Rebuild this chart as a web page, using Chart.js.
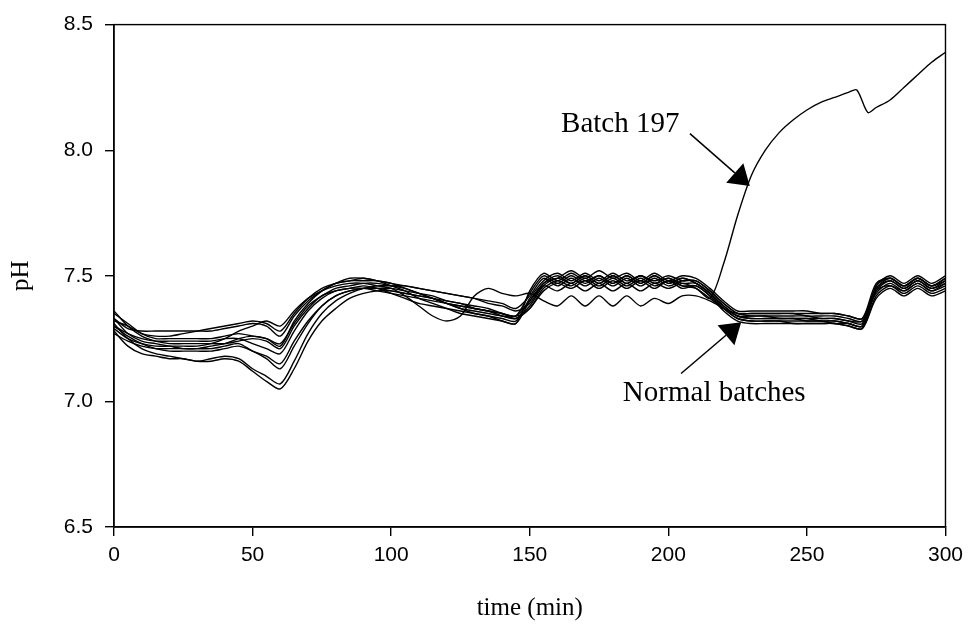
<!DOCTYPE html>
<html>
<head>
<meta charset="utf-8">
<script src="https://cdn.jsdelivr.net/npm/chart.js@4.4.0/dist/chart.umd.min.js"></script>
<style>
html, body { margin: 0; padding: 0; background: #fff; }
#wrap { width: 970px; height: 626px; }
</style>
</head>
<body>
<div id="wrap"><canvas id="phChart" width="970" height="626"></canvas></div>
<script>
// sampling times (min) shared by the normal batches
var time = [0, 5, 10, 15, 20, 25, 30, 35, 40, 45, 50, 55, 60,
	65, 70, 75, 80, 85, 90, 95,
	100, 105, 110, 115, 120, 125, 130, 135, 140, 145, 150,
	155, 160, 165, 170, 175, 180, 185, 190, 195, 200, 205, 210,
	215, 220, 225,
	230, 235, 240, 245, 250, 255, 260, 265, 270,
	275, 280, 285, 290, 295, 300];

// pH of the normal batches
var batchA = [7.31, 7.25, 7.21, 7.19, 7.18, 7.17, 7.16, 7.16, 7.17, 7.16, 7.12, 7.08, 7.05,
	7.13, 7.24, 7.32, 7.37, 7.41, 7.43, 7.44,
	7.44, 7.43, 7.42, 7.41, 7.40, 7.39, 7.38, 7.37, 7.35, 7.34, 7.37,
	7.45, 7.48, 7.46, 7.49, 7.46, 7.49, 7.46, 7.49, 7.46, 7.48, 7.46, 7.46,
	7.42, 7.36, 7.32,
	7.31, 7.31, 7.31, 7.31, 7.31, 7.31, 7.31, 7.30, 7.29,
	7.42, 7.46, 7.44, 7.47, 7.44, 7.46];
var batchB = [7.28, 7.22, 7.19, 7.18, 7.17, 7.17, 7.16, 7.17, 7.18, 7.17, 7.13, 7.10, 7.07,
	7.16, 7.27, 7.35, 7.40, 7.43, 7.45, 7.46,
	7.46, 7.46, 7.45, 7.44, 7.43, 7.42, 7.41, 7.39, 7.38, 7.36, 7.39,
	7.47, 7.50, 7.47, 7.50, 7.47, 7.50, 7.47, 7.50, 7.47, 7.49, 7.47, 7.47,
	7.43, 7.37, 7.33,
	7.32, 7.32, 7.32, 7.32, 7.32, 7.32, 7.31, 7.31, 7.30,
	7.44, 7.48, 7.45, 7.48, 7.45, 7.48];
var batchC = [7.33, 7.27, 7.24, 7.23, 7.22, 7.21, 7.21, 7.21, 7.22, 7.23, 7.20, 7.18, 7.15,
	7.24, 7.32, 7.38, 7.42, 7.44, 7.45, 7.45,
	7.44, 7.43, 7.42, 7.41, 7.39, 7.38, 7.37, 7.36, 7.35, 7.34, 7.40,
	7.46, 7.44, 7.47, 7.44, 7.47, 7.44, 7.47, 7.44, 7.47, 7.45, 7.47, 7.45,
	7.41, 7.37, 7.35,
	7.35, 7.35, 7.35, 7.35, 7.35, 7.35, 7.35, 7.34, 7.33,
	7.45, 7.49, 7.46, 7.49, 7.46, 7.49];
var batchD = [7.30, 7.27, 7.25, 7.24, 7.24, 7.24, 7.24, 7.24, 7.25, 7.25, 7.23, 7.21, 7.19,
	7.28, 7.36, 7.41, 7.44, 7.45, 7.46, 7.45,
	7.43, 7.41, 7.39, 7.38, 7.37, 7.36, 7.35, 7.34, 7.33, 7.32, 7.41,
	7.48, 7.51, 7.48, 7.51, 7.48, 7.51, 7.48, 7.50, 7.48, 7.50, 7.48, 7.48,
	7.44, 7.39, 7.35,
	7.34, 7.34, 7.34, 7.34, 7.34, 7.33, 7.33, 7.32, 7.31,
	7.46, 7.50, 7.47, 7.50, 7.47, 7.50];
var batchE = [7.35, 7.31, 7.27, 7.25, 7.25, 7.25, 7.25, 7.25, 7.26, 7.27, 7.26, 7.25, 7.23,
	7.31, 7.38, 7.42, 7.45, 7.46, 7.47, 7.47,
	7.46, 7.45, 7.43, 7.41, 7.39, 7.37, 7.36, 7.35, 7.34, 7.34, 7.43,
	7.50, 7.47, 7.50, 7.47, 7.50, 7.47, 7.50, 7.47, 7.50, 7.47, 7.49, 7.47,
	7.43, 7.38, 7.34,
	7.34, 7.34, 7.33, 7.33, 7.33, 7.33, 7.33, 7.32, 7.32,
	7.43, 7.47, 7.44, 7.47, 7.44, 7.47];
var batchF = [7.33, 7.29, 7.28, 7.28, 7.28, 7.28, 7.28, 7.28, 7.29, 7.30, 7.31, 7.30, 7.26,
	7.34, 7.40, 7.44, 7.47, 7.48, 7.49, 7.48,
	7.47, 7.45, 7.43, 7.41, 7.39, 7.37, 7.35, 7.34, 7.32, 7.31, 7.40,
	7.47, 7.49, 7.52, 7.49, 7.52, 7.49, 7.51, 7.48, 7.51, 7.48, 7.50, 7.49,
	7.45, 7.40, 7.36,
	7.36, 7.36, 7.36, 7.36, 7.36, 7.35, 7.35, 7.34, 7.33,
	7.47, 7.49, 7.46, 7.49, 7.46, 7.49];
var batchG = [7.29, 7.25, 7.23, 7.22, 7.22, 7.22, 7.22, 7.23, 7.25, 7.28, 7.30, 7.32, 7.30,
	7.36, 7.41, 7.44, 7.46, 7.47, 7.47, 7.46,
	7.45, 7.42, 7.38, 7.34, 7.32, 7.34, 7.42, 7.45, 7.43, 7.42, 7.43,
	7.40, 7.38, 7.42, 7.38, 7.42, 7.38, 7.42, 7.38, 7.41, 7.39, 7.42, 7.42,
	7.40, 7.37, 7.34,
	7.33, 7.33, 7.33, 7.33, 7.32, 7.32, 7.32, 7.31, 7.30,
	7.44, 7.46, 7.43, 7.46, 7.43, 7.45];
var batchH = [7.36, 7.30, 7.26, 7.24, 7.23, 7.23, 7.23, 7.23, 7.23, 7.24, 7.25, 7.24, 7.21,
	7.30, 7.37, 7.42, 7.44, 7.45, 7.45, 7.44,
	7.43, 7.42, 7.41, 7.40, 7.39, 7.38, 7.37, 7.36, 7.35, 7.33, 7.37,
	7.44, 7.47, 7.45, 7.48, 7.45, 7.48, 7.45, 7.48, 7.45, 7.48, 7.45, 7.46,
	7.42, 7.37, 7.33,
	7.32, 7.32, 7.32, 7.31, 7.31, 7.31, 7.31, 7.30, 7.29,
	7.41, 7.45, 7.42, 7.45, 7.42, 7.44];
var batchI = [7.32, 7.30, 7.27, 7.26, 7.26, 7.27, 7.28, 7.29, 7.30, 7.31, 7.32, 7.31, 7.28,
	7.35, 7.41, 7.45, 7.47, 7.48, 7.48, 7.48,
	7.47, 7.46, 7.45, 7.44, 7.43, 7.42, 7.41, 7.40, 7.39, 7.37, 7.42,
	7.49, 7.46, 7.49, 7.46, 7.49, 7.46, 7.49, 7.46, 7.49, 7.46, 7.48, 7.48,
	7.44, 7.39, 7.35,
	7.35, 7.35, 7.35, 7.35, 7.34, 7.34, 7.34, 7.33, 7.32,
	7.45, 7.48, 7.45, 7.48, 7.45, 7.47];
var batchJ = [7.27, 7.24, 7.22, 7.21, 7.21, 7.21, 7.21, 7.22, 7.23, 7.25, 7.26, 7.25, 7.22,
	7.32, 7.39, 7.44, 7.47, 7.49, 7.49, 7.48,
	7.46, 7.44, 7.41, 7.39, 7.37, 7.35, 7.34, 7.33, 7.32, 7.31, 7.44,
	7.51, 7.48, 7.51, 7.48, 7.50, 7.47, 7.50, 7.47, 7.50, 7.47, 7.49, 7.47,
	7.43, 7.38, 7.34,
	7.33, 7.33, 7.33, 7.33, 7.33, 7.32, 7.32, 7.31, 7.30,
	7.46, 7.49, 7.46, 7.49, 7.46, 7.48];

// batch 197 runs away after ~215 min, sampled a bit finer around the dip
var time197 = [0, 5, 10, 15, 20, 25, 30, 35, 40, 45, 50, 55, 60,
	65, 70, 75, 80, 85, 90, 95,
	100, 105, 110, 115, 120, 125, 130, 135, 140, 145, 150,
	155, 160, 165, 170, 175, 180, 185, 190, 195, 200, 205, 210,
	215, 220, 225, 230, 235, 240, 245, 250, 255, 260, 265,
	268, 272, 275, 280, 285, 290, 295, 300];
var batch197 = [7.30, 7.26, 7.23, 7.21, 7.20, 7.20, 7.20, 7.20, 7.21, 7.22, 7.20, 7.17, 7.13,
	7.22, 7.31, 7.38, 7.42, 7.44, 7.45, 7.45,
	7.45, 7.44, 7.43, 7.42, 7.40, 7.39, 7.37, 7.36, 7.34, 7.33, 7.38,
	7.46, 7.49, 7.47, 7.50, 7.47, 7.50, 7.47, 7.50, 7.47, 7.49, 7.46, 7.45,
	7.41, 7.55, 7.74, 7.90, 8.00, 8.07, 8.12, 8.16, 8.19, 8.21, 8.23,
	8.24, 8.15, 8.17, 8.20, 8.25, 8.30, 8.35, 8.39];

var normalBatches = [batchA, batchB, batchC, batchD, batchE, batchF, batchG, batchH, batchI, batchJ];

function toPoints(xs, ys) {
	var pts = [];
	for (var i = 0; i < ys.length; i++) {
		pts.push({x: xs[i], y: ys[i]});
	}
	return pts;
}

var datasets = [];
for (var i = 0; i < normalBatches.length; i++) {
	datasets.push({
		label: 'normal ' + (i + 1),
		data: toPoints(time, normalBatches[i]),
		borderColor: '#000',
		borderWidth: 1.4,
		pointRadius: 0,
		tension: 0.3
	});
}
datasets.push({
	label: 'Batch 197',
	data: toPoints(time197, batch197),
	borderColor: '#000',
	borderWidth: 1.4,
	pointRadius: 0,
	tension: 0.3
});

// labels with arrows, placed in data units
var notes = [
	{text: 'Batch 197', pos: [161.3, 8.074], tail: [207.8, 8.066], tip: [229.4, 7.857]},
	{text: 'Normal batches', pos: [183.6, 7.0], tail: [204.6, 7.111], tip: [226.3, 7.315]}
];

function drawArrow(ctx, x0, y0, x1, y1) {
	var ang = Math.atan2(y1 - y0, x1 - x0);
	var len = 20, half = 13;
	var bx = x1 - len * Math.cos(ang), by = y1 - len * Math.sin(ang);
	ctx.beginPath();
	ctx.moveTo(x0, y0);
	ctx.lineTo(bx, by);
	ctx.stroke();
	ctx.beginPath();
	ctx.moveTo(x1, y1);
	ctx.lineTo(bx + half * Math.sin(ang), by - half * Math.cos(ang));
	ctx.lineTo(bx - half * Math.sin(ang), by + half * Math.cos(ang));
	ctx.closePath();
	ctx.fill();
}

var notesPlugin = {
	id: 'notes',
	afterDatasetsDraw: function(chart) {
		var ctx = chart.ctx, xs = chart.scales.x, ys = chart.scales.y;
		var a = chart.chartArea;
		ctx.save();
		// box round the plot
		ctx.strokeStyle = '#000';
		ctx.lineWidth = 1.4;
		ctx.strokeRect(a.left, a.top, a.right - a.left, a.bottom - a.top);

		ctx.fillStyle = '#000';
		ctx.lineWidth = 1.5;
		ctx.font = '29px "Liberation Serif", "Times New Roman", serif';
		ctx.textBaseline = 'alphabetic';
		for (var i = 0; i < notes.length; i++) {
			var n = notes[i];
			ctx.fillText(n.text, xs.getPixelForValue(n.pos[0]), ys.getPixelForValue(n.pos[1]));
			drawArrow(ctx,
				xs.getPixelForValue(n.tail[0]), ys.getPixelForValue(n.tail[1]),
				xs.getPixelForValue(n.tip[0]), ys.getPixelForValue(n.tip[1]));
		}
		ctx.restore();
	}
};

var tickFont = {family: '"Liberation Sans", Arial, sans-serif', size: 21};
var titleFont = {family: '"Liberation Serif", "Times New Roman", serif', size: 25};

var chart = new Chart(document.getElementById('phChart'), {
	type: 'line',
	data: {datasets: datasets},
	options: {
		responsive: false,
		animation: false,
		layout: {padding: {top: 19, right: 22, left: 0, bottom: 0}},
		plugins: {
			legend: {display: false},
			tooltip: {enabled: false}
		},
		scales: {
			x: {
				type: 'linear',
				min: 0,
				max: 300,
				ticks: {stepSize: 50, color: '#000', font: tickFont, padding: 7, maxRotation: 0},
				grid: {drawOnChartArea: false, tickLength: 9, color: '#000', lineWidth: 1.4},
				border: {color: '#000', width: 1.4},
				title: {display: true, text: 'time (min)', color: '#000', font: titleFont, padding: {top: 0, bottom: 3}},
				afterFit: function(s) { s.height = 99; }
			},
			y: {
				min: 6.5,
				max: 8.5,
				ticks: {
					stepSize: 0.5,
					color: '#000',
					font: tickFont,
					padding: 12,
					callback: function(v) { return v.toFixed(1); }
				},
				grid: {drawOnChartArea: false, tickLength: 9, color: '#000', lineWidth: 1.4},
				border: {color: '#000', width: 1.4},
				title: {display: true, text: 'pH', color: '#000', font: titleFont, padding: {top: 6, bottom: 0}},
				afterFit: function(s) { s.width = 114; }
			}
		}
	},
	plugins: [notesPlugin]
});
</script>
</body>
</html>
